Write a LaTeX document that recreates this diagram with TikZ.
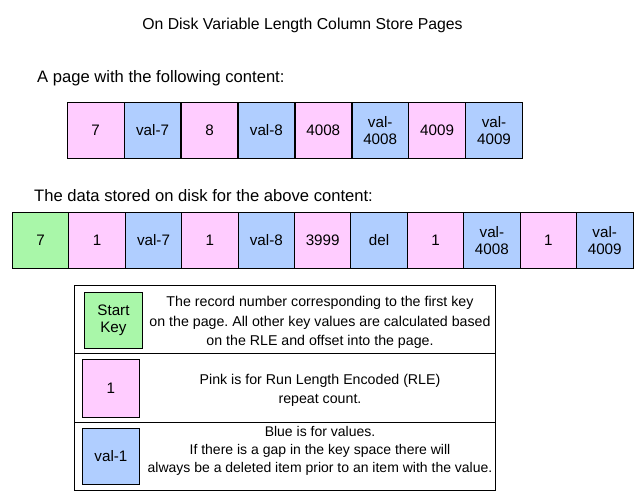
\documentclass[tikz,border=0pt]{standalone}
\usepackage{fontspec}
\setmainfont{Liberation Sans}
\frenchspacing
\definecolor{cgreen}{HTML}{A9F7A9}
\definecolor{cpink}{HTML}{FFCCFF}
\definecolor{cblue}{HTML}{B0CEFF}
\tikzset{
  cell/.style={draw=black, line width=0.9pt, minimum width=56.5pt, minimum height=56pt, inner sep=0pt, align=center, font=\fontsize{15.2}{17}\selectfont, anchor=north west},
  pk/.style={cell, fill=cpink},
  bl/.style={cell, fill=cblue},
  gr/.style={cell, fill=cgreen},
  lbl/.style={font=\fontsize{16.6}{19}\selectfont, inner sep=0pt},
  legtxt/.style={font=\fontsize{14.2}{19.5}\selectfont, align=center, inner sep=0pt},
  legline/.style={draw=black, line width=0.8pt}
}
\begin{document}
\begin{tikzpicture}[x=1pt,y=-1pt]
\useasboundingbox (0,0) rectangle (643,501);
\node[lbl, font=\fontsize{15.8}{19}\selectfont] (title) at (302.5,25) {On Disk Variable Length Column Store Pages};
\node[lbl, anchor=west] (lab1) at (37,78) {A page with the following content:};
\node[lbl, anchor=west] (lab2) at (34,196) {The data stored on disk for the above content:};
% row 1
\node[pk] (a1) at (67,102) {7};
\node[bl] (a2) at (123.9,102) {val-7};
\node[pk] (a3) at (180.8,102) {8};
\node[bl] (a4) at (237.7,102) {val-8};
\node[pk] (a5) at (294.6,102) {4008};
\node[bl] (a6) at (351.5,102) {val-\\4008};
\node[pk] (a7) at (408.4,102) {4009};
\node[bl] (a8) at (465.3,102) {val-\\4009};
% row 2
\node[gr] (b1) at (12,212) {7};
\node[pk] (b2) at (68.4,212) {1};
\node[bl] (b3) at (124.8,212) {val-7};
\node[pk] (b4) at (181.2,212) {1};
\node[bl] (b5) at (237.6,212) {val-8};
\node[pk] (b6) at (294,212) {3999};
\node[bl] (b7) at (350.4,212) {del};
\node[pk] (b8) at (406.8,212) {1};
\node[bl] (b9) at (463.2,212) {val-\\4008};
\node[pk] (b10) at (519.6,212) {1};
\node[bl] (b11) at (576,212) {val-\\4009};
% legend
\node[draw=black, line width=0.8pt, minimum width=421pt, minimum height=205pt, anchor=north west, inner sep=0pt] (leg) at (74,285) {};
\coordinate (s1l) at (74,353); \coordinate (s1r) at (495,353);
\coordinate (s2l) at (74,422); \coordinate (s2r) at (495,422);
\draw[legline] (s1l) -- (s1r);
\draw[legline] (s2l) -- (s2r);
\node[gr, minimum width=58pt] (k1) at (84,292) {Start\\Key};
\node[pk, minimum width=57pt, minimum height=58pt] (k2) at (82,359) {1};
\node[bl, minimum width=57pt] (k3) at (82,428) {val-1};
\node[legtxt] (t1) at (320,322.5) {The record number corresponding to the first key\\on the page. All other key values are calculated based\\on the RLE and offset into the page.};
\node[legtxt] (t2) at (320,390.5) {Pink is for Run Length Encoded (RLE)\\repeat count.};
\node[legtxt, font=\fontsize{14}{18}\selectfont] (t3) at (320,451) {Blue is for values.\\If there is a gap in the key space there will\\always be a deleted item prior to an item with the value.};
\end{tikzpicture}
\end{document}
